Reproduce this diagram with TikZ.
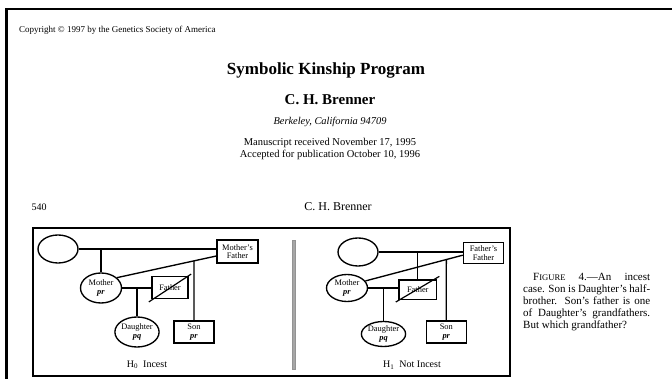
\documentclass[tikz,border=0pt]{standalone}
\usepackage{fontspec}
\setmainfont{Liberation Serif}
\usetikzlibrary{shapes.geometric,calc}
\tikzset{
  person/.style={draw, line width=1.35pt, ellipse, inner sep=0pt, align=center, font=\fontsize{8.4}{8.6}\selectfont},
  male/.style={draw, line width=1.35pt, rectangle, inner sep=0pt, align=center, font=\fontsize{8.4}{8.4}\selectfont},
  link/.style={line width=1.35pt},
  crossout/.style={line width=1.2pt}
}
\newcommand{\gt}[1]{\textbf{\textit{#1}}}
\begin{document}
\begin{tikzpicture}[x=1pt,y=-1pt]
\useasboundingbox (0,0) rectangle (672,379);
\fill[white] (0,0) rectangle (672,379);
% page frame
\draw[line width=2.5pt] (6.5,379) -- (6.5,9) -- (672,9);
% header texts
\node[font=\fontsize{9}{10}\selectfont, anchor=west, inner sep=0pt] (copy) at (19,30.5) {Copyright © 1997 by the Genetics Society of America};
\node[font=\fontsize{17}{20}\selectfont\bfseries] (title) at (326,70) {Symbolic Kinship Program};
\node[font=\fontsize{15}{18}\selectfont\bfseries] (author) at (330,100) {C. H. Brenner};
\node[font=\fontsize{10.4}{12}\selectfont\itshape] (addr) at (330,121.5) {Berkeley, California 94709};
\node[font=\fontsize{10.5}{12}\selectfont, align=center] (dates) at (330,149) {Manuscript received November 17, 1995\\Accepted for publication October 10, 1996};
\node[font=\fontsize{10}{12}\selectfont, anchor=west, inner sep=0pt] (page) at (31.5,207) {540};
\node[font=\fontsize{12}{14}\selectfont] (rh) at (338,207) {C. H. Brenner};
% figure frame and divider
\draw[line width=1.4pt] (33,228) rectangle (510,376);
\fill[gray!70, draw=gray!85, line width=0.4pt] (291.8,240) rectangle (295.6,369);
% left panel
\node[person, minimum width=40pt, minimum height=28pt] (gm) at (58,249) {};
\node[male, minimum width=41pt, minimum height=23pt] (mf) at (237.5,251.5) {Mother's\\Father};
\node[person, minimum width=41pt, minimum height=30pt] (mo) at (101,288) {Mother\\\gt{pr}};
\node[male, minimum width=36pt, minimum height=21.5pt] (fa) at (170,287.5) {Father};
\node[person, minimum width=40pt, minimum height=30pt] (da) at (137,332) {Daughter\\\gt{pq}};
\node[male, minimum width=40pt, minimum height=22pt] (so) at (194,332) {Son\\\gt{pr}};
\draw[link] (gm.east) -- (gm.east -| mf.west);
\draw[link] (gm.east -| mo.north) -- (mo.north);
\draw[link] (mo.33) -- (mf.192);
\draw[link] (so.north) -- (intersection of mo.33--mf.192 and so.north--so.south);
\draw[link] (mo.east) -- (mo.east -| fa.west);
\draw[link] (mo.east -| da.north) -- (da.north);
\draw[crossout] ($(fa.south west)+(-2.5,3)$) -- ($(fa.north east)+(2.5,-2)$);
\node[font=\fontsize{10}{12}\selectfont] (h0) at (147,365) {H\textsubscript{0}\enspace Incest};
% right panel
\node[person, minimum width=40pt, minimum height=28pt] (gm2) at (358,252) {};
\node[male, minimum width=40pt, minimum height=21pt] (ff) at (483.5,253) {Father's\\Father};
\node[person, minimum width=41pt, minimum height=27pt] (mo2) at (347,288) {Mother\\\gt{pr}};
\node[male, minimum width=37.7pt, minimum height=19.3pt] (fa2) at (417.8,289.7) {Father};
\node[person, minimum width=41pt, minimum height=25pt] (da2) at (383.5,334) {Daughter\\\gt{pq}};
\node[male, minimum width=40pt, minimum height=22pt] (so2) at (446.3,332) {Son\\\gt{pr}};
\draw[link] (gm2.east) -- (gm2.east -| ff.west);
\draw[link] (gm2.east -| fa2.north) -- (fa2.north);
\draw[link] (mo2.21) -- (ff.186);
\draw[link] (so2.north) -- (intersection of mo2.21--ff.186 and so2.north--so2.south);
\draw[link] (mo2.east) -- (mo2.east -| fa2.west);
\draw[link] (mo2.east -| da2.north) -- (da2.north);
\draw[crossout] ($(fa2.south west)+(-2.5,2)$) -- ($(fa2.north east)+(2,-3)$);
\node[font=\fontsize{10}{12}\selectfont] (h1) at (412,365) {H\textsubscript{1}\enspace Not Incest};
% caption
\node[anchor=north west, inner sep=0pt, text width=127pt, align=justify, font=\fontsize{11}{11.9}\selectfont] (cap) at (523,273)
 {\hspace*{10pt}F{\fontsize{8.6}{10}\selectfont IGURE} 4.—An incest\linebreak case. Son is Daughter's half-\linebreak brother. Son's father is one\linebreak of Daughter's grandfathers.\linebreak But which grandfather?};
\end{tikzpicture}
\end{document}
